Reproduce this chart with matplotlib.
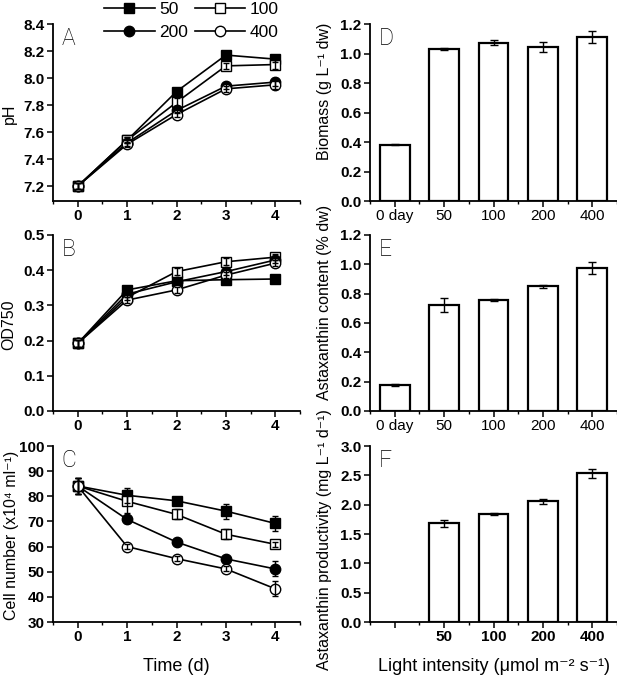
import matplotlib
matplotlib.use("Agg")
import matplotlib.pyplot as plt
import numpy as np
from matplotlib.ticker import MultipleLocator, FormatStrFormatter

plt.rcParams['font.family'] = ['Liberation Sans', 'DejaVu Sans']

days = [0, 1, 2, 3, 4]
series_names = ['50', '100', '200', '400']

ph = {
    '50':  [7.20, 7.54, 7.90, 8.17, 8.14],
    '100': [7.20, 7.54, 7.82, 8.09, 8.10],
    '200': [7.20, 7.52, 7.76, 7.94, 7.97],
    '400': [7.20, 7.51, 7.73, 7.92, 7.95],
}
ph_err = {
    '50':  [0.02, 0.02, 0.02, 0.01, 0.02],
    '100': [0.02, 0.02, 0.03, 0.02, 0.03],
    '200': [0.02, 0.02, 0.02, 0.02, 0.03],
    '400': [0.02, 0.02, 0.02, 0.02, 0.03],
}
od = {
    '50':  [0.192, 0.344, 0.370, 0.373, 0.375],
    '100': [0.192, 0.323, 0.396, 0.424, 0.437],
    '200': [0.192, 0.332, 0.367, 0.396, 0.429],
    '400': [0.192, 0.315, 0.344, 0.386, 0.420],
}
od_err = {
    '50':  [0.01, 0.005, 0.005, 0.005, 0.005],
    '100': [0.01, 0.008, 0.01, 0.01, 0.008],
    '200': [0.01, 0.008, 0.008, 0.01, 0.008],
    '400': [0.01, 0.008, 0.008, 0.01, 0.008],
}
cells = {
    '50':  [84.1, 80.4, 78.2, 74.1, 69.2],
    '100': [84.1, 78.0, 72.8, 64.9, 60.9],
    '200': [84.1, 70.8, 61.8, 55.1, 51.1],
    '400': [84.1, 60.0, 55.2, 51.1, 43.2],
}
cells_err = {
    '50':  [3.0, 3.0, 1.0, 3.0, 3.0],
    '100': [3.0, 4.5, 2.0, 2.0, 1.0],
    '200': [3.0, 1.5, 1.0, 1.0, 3.0],
    '400': [3.0, 1.0, 1.0, 1.0, 3.0],
}
markers = {'50': 's', '100': 's', '200': 'o', '400': 'o'}
fills = {'50': 'black', '100': 'white', '200': 'black', '400': 'white'}

bar_labels = ['0 day', '50', '100', '200', '400']
biomass = [0.382, 1.030, 1.073, 1.043, 1.114]
biomass_err = [0.004, 0.008, 0.017, 0.035, 0.040]
content = [0.177, 0.723, 0.755, 0.852, 0.973]
content_err = [0.006, 0.048, 0.006, 0.010, 0.040]
prod_labels = ['', '50', '100', '200', '400']
productivity = [1.68, 1.845, 2.055, 2.535]
productivity_err = [0.06, 0.02, 0.04, 0.08]

W, H = 617, 680
fig = plt.figure(figsize=(W / 100, H / 100), dpi=100)

TICK_FS = 11
LABEL_FS = 11.5

def ax_at(left, top, right, bottom):
    return fig.add_axes([left / W, 1 - bottom / H, (right - left) / W, (bottom - top) / H])

def style(ax, xbold):
    for s in ['top', 'right']:
        ax.spines[s].set_visible(False)
    for s in ['left', 'bottom']:
        ax.spines[s].set_linewidth(1.3)
    ax.tick_params(which='major', direction='out', length=4, width=1.1, labelsize=TICK_FS, pad=2)
    ax.tick_params(which='minor', direction='out', length=2.5, width=1.0)
    ax.tick_params(axis='y', which='minor', left=False)
    ax.yaxis.set_major_formatter(FormatStrFormatter('%.1f') if ax.get_ylim()[1] < 10
                                 else FormatStrFormatter('%d'))
    for lab in ax.get_yticklabels():
        lab.set_fontweight('bold')
    if xbold:
        for lab in ax.get_xticklabels():
            lab.set_fontweight('bold')

def letter(ax, s):
    ax.text(0.035, 0.985, s, transform=ax.transAxes, fontsize=16.5, va='top', ha='left',
            family=['Roboto', 'Liberation Sans', 'DejaVu Sans'], fontweight='light')

left_x = (53, 300)
right_x = (370, 617)
rows = [(24, 201), (235, 411), (446, 622)]

axA = ax_at(left_x[0], rows[0][0], left_x[1], rows[0][1])
axB = ax_at(left_x[0], rows[1][0], left_x[1], rows[1][1])
axC = ax_at(left_x[0], rows[2][0], left_x[1], rows[2][1])
axD = ax_at(right_x[0], rows[0][0], right_x[1], rows[0][1])
axE = ax_at(right_x[0], rows[1][0], right_x[1], rows[1][1])
axF = ax_at(right_x[0], rows[2][0], right_x[1], rows[2][1])

handles = {}
for ax, data, err, ylim, step, ylabel, lx in [
        (axA, ph, ph_err, (7.09, 8.4), 0.2, 'pH', -0.148),
        (axB, od, od_err, (0.0, 0.5), 0.1, 'OD750', -0.148),
        (axC, cells, cells_err, (30, 100), 10, 'Cell number (x10\u2074 ml\u207b\u00b9)', -0.138)]:
    for name in series_names:
        ln, = ax.plot(days, data[name], '-', color='black', lw=1.2, marker=markers[name],
                      markersize=7.5, markerfacecolor=fills[name], markeredgecolor='black',
                      markeredgewidth=1.0, zorder=3)
        ax.errorbar(days, data[name], yerr=err[name], fmt='none', ecolor='black',
                    elinewidth=1.0, capsize=2, capthick=1.0, zorder=4)
        handles[name] = ln
    ax.set_xlim(-0.5, 4.5)
    ax.set_ylim(*ylim)
    ax.set_xticks(days)
    ax.xaxis.set_minor_locator(MultipleLocator(0.5))
    ax.yaxis.set_major_locator(MultipleLocator(step))
    ax.set_ylabel(ylabel, fontsize=LABEL_FS)
    ax.yaxis.set_label_coords(lx, 0.49)
    style(ax, True)

axC.set_xlabel('Time (d)', fontsize=13, labelpad=10)

xpos = np.arange(len(bar_labels))
for ax, vals, err, ylim, step, ylabel, ly in [
        (axD, biomass, biomass_err, (0, 1.2), 0.2, 'Biomass (g L\u207b\u00b9 dw)', 0.62),
        (axE, content, content_err, (0, 1.2), 0.2, 'Astaxanthin content (% dw)', 0.615)]:
    ax.bar(xpos, vals, width=0.6, color='white', edgecolor='black', linewidth=1.6, zorder=2)
    ax.errorbar(xpos, vals, yerr=err, fmt='none', ecolor='black', elinewidth=1.0,
                capsize=3, capthick=1.0, zorder=3)
    ax.set_xlim(-0.5, 4.5)
    ax.set_ylim(*ylim)
    ax.set_xticks(xpos)
    ax.set_xticklabels(bar_labels)
    ax.xaxis.set_minor_locator(MultipleLocator(0.5))
    ax.yaxis.set_major_locator(MultipleLocator(step))
    ax.set_ylabel(ylabel, fontsize=LABEL_FS)
    ax.yaxis.set_label_coords(-0.152, ly)
    style(ax, False)

ppos = np.arange(1, len(prod_labels))
axF.bar(ppos, productivity, width=0.6, color='white', edgecolor='black', linewidth=1.6, zorder=2)
axF.errorbar(ppos, productivity, yerr=productivity_err, fmt='none', ecolor='black',
             elinewidth=1.0, capsize=3, capthick=1.0, zorder=3)
axF.set_xlim(-0.5, 4.5)
axF.set_ylim(0, 3.0)
axF.set_xticks(np.arange(len(prod_labels)))
axF.set_xticklabels(prod_labels)
axF.xaxis.set_minor_locator(MultipleLocator(0.5))
axF.yaxis.set_major_locator(MultipleLocator(0.5))
axF.set_ylabel('Astaxanthin productivity (mg L\u207b\u00b9 d\u207b\u00b9)', fontsize=LABEL_FS)
axF.yaxis.set_label_coords(-0.152, 0.47)
style(axF, True)
axF.set_xlabel('Light intensity (\u03bcmol m\u207b\u00b2 s\u207b\u00b9)', fontsize=13, labelpad=10)

for ax, s in zip([axA, axB, axC, axD, axE, axF], 'ABCDEF'):
    letter(ax, s)

order = ['50', '200', '100', '400']
fig.legend([handles[n] for n in order], order, ncol=2, frameon=False,
           loc='upper left', bbox_to_anchor=(92 / W, 1.0 + 10 / H), fontsize=12.5,
           handlelength=2.9, handletextpad=0.25, columnspacing=0.4, labelspacing=0.45,
           borderpad=0.2)

fig.savefig('out.png', dpi=100)
